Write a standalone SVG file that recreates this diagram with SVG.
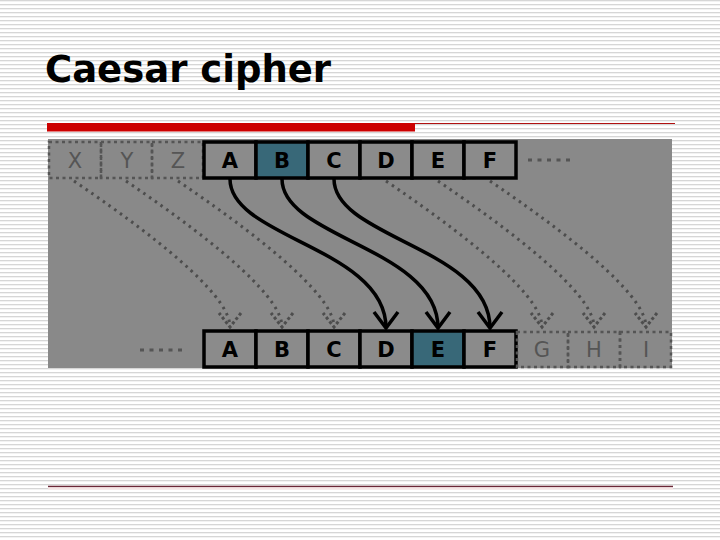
<svg xmlns="http://www.w3.org/2000/svg" width="720" height="540" viewBox="0 0 720 540">
<defs>
<pattern id="stripes" x="0" y="0" width="8" height="4" patternUnits="userSpaceOnUse">
<rect x="0" y="0" width="8" height="4" fill="#ffffff"/>
<rect x="0" y="0" width="8" height="1.3" fill="#d6d6d6"/>
</pattern>
<marker id="ah" markerUnits="userSpaceOnUse" markerWidth="40" markerHeight="40" viewBox="-20 -20 40 40" refX="0" refY="0" orient="auto" overflow="visible">
<path d="M-16,-12 L0,0 L-16,12" fill="none" stroke="#000" stroke-width="3.5" stroke-linejoin="miter"/>
</marker>
<marker id="ahd" markerUnits="userSpaceOnUse" markerWidth="40" markerHeight="40" viewBox="-20 -20 40 40" refX="0" refY="0" orient="auto" overflow="visible">
<path d="M-14,-11 L0,0 L-14,11" fill="none" stroke="#4d4d4d" stroke-width="3" stroke-dasharray="3 2.5"/>
</marker>
</defs>
<style>
.box{fill:#8b8b8b;stroke:#000;stroke-width:3.5}
.hi{fill:#386878}
.dbox{fill:none;stroke:#555;stroke-width:2.5;stroke-dasharray:3 3.5}
.lt{font-family:"DejaVu Sans",sans-serif;font-weight:bold;font-size:21px;fill:#000;text-anchor:middle}
.ltg{font-family:"DejaVu Sans",sans-serif;font-size:21px;fill:#555;text-anchor:middle}
.solid{fill:none;stroke:#000;stroke-width:3.5;marker-end:url(#ah)}
.dot{fill:none;stroke:#4d4d4d;stroke-width:3;stroke-dasharray:2.5 4.5;marker-end:url(#ahd)}
.ell{stroke:#555;stroke-width:3;stroke-dasharray:4 5.5}
</style>
<rect x="0" y="0" width="720" height="540" fill="url(#stripes)"/>
<g id="title">
<text x="45" y="82" font-family="DejaVu Sans, sans-serif" font-weight="bold" font-size="37" fill="#000">Caesar cipher</text>
</g>
<g id="rules">
<rect x="47" y="123" width="368" height="8.5" fill="#cc0000"/>
<line x1="415" y1="123.5" x2="675" y2="123.5" stroke="#b01010" stroke-width="1.2"/>
<line x1="48" y1="486.5" x2="673" y2="486.5" stroke="#6b2838" stroke-width="1.5"/>
<rect x="48" y="487.5" width="625" height="2" fill="#f6e4e4"/>
</g>
<rect id="panel" x="48" y="139" width="624" height="229" fill="#898989"/>
<g id="top-dashed">
<g id="tX"><rect class="dbox" x="49" y="142" width="52" height="36"/><text class="ltg" x="75" y="168">X</text></g>
<g id="tY"><rect class="dbox" x="101" y="142" width="51" height="36"/><text class="ltg" x="127" y="168">Y</text></g>
<g id="tZ"><rect class="dbox" x="152" y="142" width="51" height="36"/><text class="ltg" x="178" y="168">Z</text></g>
</g>
<g id="top-row">
<g id="tA"><rect class="box" x="204" y="142" width="52" height="36"/><text class="lt" x="230" y="168">A</text></g>
<g id="tB"><rect class="box hi" x="256" y="142" width="52" height="36"/><text class="lt" x="282" y="168">B</text></g>
<g id="tC"><rect class="box" x="308" y="142" width="52" height="36"/><text class="lt" x="334" y="168">C</text></g>
<g id="tD"><rect class="box" x="360" y="142" width="52" height="36"/><text class="lt" x="386" y="168">D</text></g>
<g id="tE"><rect class="box" x="412" y="142" width="52" height="36"/><text class="lt" x="438" y="168">E</text></g>
<g id="tF"><rect class="box" x="464" y="142" width="52" height="36"/><text class="lt" x="490" y="168">F</text></g>
<line id="top-ellipsis" class="ell" x1="528" y1="160" x2="574" y2="160"/>
</g>
<g id="bottom-row">
<line id="bottom-ellipsis" class="ell" x1="140" y1="350" x2="187" y2="350"/>
<g id="bA"><rect class="box" x="204" y="331" width="52" height="36"/><text class="lt" x="230" y="357">A</text></g>
<g id="bB"><rect class="box" x="256" y="331" width="52" height="36"/><text class="lt" x="282" y="357">B</text></g>
<g id="bC"><rect class="box" x="308" y="331" width="52" height="36"/><text class="lt" x="334" y="357">C</text></g>
<g id="bD"><rect class="box" x="360" y="331" width="52" height="36"/><text class="lt" x="386" y="357">D</text></g>
<g id="bE"><rect class="box hi" x="412" y="331" width="52" height="36"/><text class="lt" x="438" y="357">E</text></g>
<g id="bF"><rect class="box" x="464" y="331" width="52" height="36"/><text class="lt" x="490" y="357">F</text></g>
<g id="bG"><rect class="dbox" x="517" y="332" width="51" height="35"/><text class="ltg" x="542" y="357">G</text></g>
<g id="bH"><rect class="dbox" x="568" y="332" width="52" height="35"/><text class="ltg" x="594" y="357">H</text></g>
<g id="bI"><rect class="dbox" x="620" y="332" width="51" height="35"/><text class="ltg" x="646" y="357">I</text></g>
</g>
<g id="connectors">
<path class="dot" d="M74,181 Q230,287 230,327"/>
<path class="dot" d="M126,181 Q282,287 282,327"/>
<path class="dot" d="M178,181 Q334,287 334,327"/>
<path class="dot" d="M386,181 Q542,287 542,327"/>
<path class="dot" d="M438,181 Q594,287 594,327"/>
<path class="dot" d="M490,181 Q646,287 646,327"/>
<path class="solid" d="M230,179 C230,238 386,248 386,328"/>
<path class="solid" d="M282,179 C282,238 438,248 438,328"/>
<path class="solid" d="M334,179 C334,238 490,248 490,328"/>
</g>
</svg>
